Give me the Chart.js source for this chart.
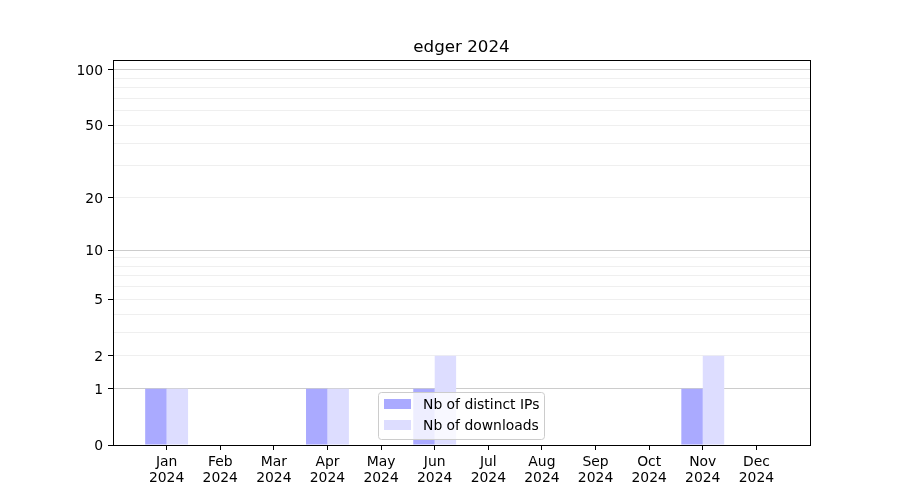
<!DOCTYPE html>
<html>
<head>
<meta charset="utf-8">
<script src="https://cdn.jsdelivr.net/npm/chart.js@4.4.1/dist/chart.umd.min.js"></script>
<style>
  html, body { margin: 0; background: #fff; }
  #wrap { width: 900px; height: 500px; }
</style>
</head>
<body>
<div id="wrap"><canvas id="chart"></canvas></div>
<script>
// Datos del gráfico
const months = ['Jan', 'Feb', 'Mar', 'Apr', 'May', 'Jun', 'Jul', 'Aug', 'Sep', 'Oct', 'Nov', 'Dec'];
const year = '2024';
const chartTitle = 'edger 2024';
const distinctIps = [1, 0, 0, 1, 0, 1, 0, 0, 0, 0, 1, 0];
const downloads = [1, 0, 0, 1, 0, 2, 0, 0, 0, 0, 2, 0];
const yLabelTicks = [0, 1, 2, 5, 10, 20, 50, 100];
const yMajorGrid = [1, 10, 100];
const yGridValues = [0, 1, 2, 3, 4, 5, 6, 7, 8, 9, 10, 20, 30, 40, 50, 60, 70, 80, 90, 100];
const yMax = 113;

Chart.defaults.font.family = "'DejaVu Sans', sans-serif";
Chart.defaults.font.size = 13.9;
Chart.defaults.color = '#000';

// Escala log(1 + x), como la de matplotlib
const f = v => Math.log10(1 + v);
class Log1pScale extends Chart.LinearScale {
    buildTicks() {
        return yGridValues.map(v => ({ value: v }));
    }
    getPixelForValue(value) {
        const d = (f(value) - f(this.min)) / (f(this.max) - f(this.min));
        return this.getPixelForDecimal(d);
    }
    getValueForPixel(pixel) {
        const d = this.getDecimalForPixel(pixel);
        return Math.pow(10, f(this.min) + d * (f(this.max) - f(this.min))) - 1;
    }
}
Log1pScale.id = 'log1p';
Log1pScale.defaults = {};
Chart.register(Log1pScale);

// Título, marco y leyenda dibujados a mano
const framePlugin = {
    id: 'frame',
    afterDraw(chart) {
        const { ctx, chartArea: a } = chart;
        ctx.save();
        ctx.strokeStyle = '#000';
        ctx.lineWidth = 1;
        ctx.strokeRect(Math.round(a.left) + 0.5, Math.round(a.top) + 0.5, a.right - a.left, a.bottom - a.top);

        ctx.font = "16.7px 'DejaVu Sans'";
        ctx.fillStyle = '#000';
        ctx.textAlign = 'center';
        ctx.textBaseline = 'alphabetic';
        ctx.fillText(chartTitle, (a.left + a.right) / 2, 52);

        // leyenda
        const lx = 378, ly = 392, lw = 166, lh = 47;
        ctx.beginPath();
        ctx.roundRect(lx + 0.5, ly + 0.5, lw, lh, 3);
        ctx.fillStyle = 'rgba(255,255,255,0.8)';
        ctx.fill();
        ctx.strokeStyle = '#cccccc';
        ctx.stroke();
        ctx.font = "13.9px 'DejaVu Sans'";
        ctx.textAlign = 'left';
        ctx.textBaseline = 'middle';
        chart.data.datasets.forEach((ds, i) => {
            const cy = 404 + i * 21;
            ctx.fillStyle = ds.backgroundColor;
            ctx.fillRect(384, cy - 5, 27, 10);
            ctx.fillStyle = '#000';
            ctx.fillText(ds.label, 423, cy + 1);
        });
        ctx.restore();
    }
};

new Chart(document.getElementById('chart'), {
    type: 'bar',
    data: {
        datasets: [
            {
                label: 'Nb of distinct IPs',
                data: distinctIps.map((v, i) => ({ x: i, y: v })),
                backgroundColor: '#aaaaff'
            },
            {
                label: 'Nb of downloads',
                data: downloads.map((v, i) => ({ x: i, y: v })),
                backgroundColor: '#ddddff'
            }
        ]
    },
    plugins: [framePlugin],
    options: {
        responsive: true,
        maintainAspectRatio: false,
        animation: false,
        categoryPercentage: 0.8,
        barPercentage: 1.0,
        layout: { padding: { top: 60, right: 90, left: 0, bottom: 0 } },
        plugins: {
            legend: { display: false },
            title: { display: false },
            tooltip: { enabled: false }
        },
        scales: {
            x: {
                type: 'linear',
                min: -1,
                max: 12,
                offset: false,
                afterBuildTicks: (scale) => { scale.ticks = months.map((m, i) => ({ value: i })); },
                afterFit: (scale) => { scale.height = 55; },
                grid: { display: true, drawOnChartArea: false, offset: false, tickLength: 5, tickColor: '#000' },
                border: { color: '#000', width: 1 },
                ticks: {
                    autoSkip: false,
                    maxRotation: 0,
                    padding: 4,
                    font: { lineHeight: 1.15 },
                    callback: (v) => [months[v], year]
                }
            },
            y: {
                type: 'log1p',
                min: 0,
                max: yMax,
                afterFit: (scale) => { scale.width = 113; },
                grid: {
                    tickLength: 5,
                    lineWidth: 1,
                    color: (ctx) => {
                        const v = ctx.tick ? ctx.tick.value : null;
                        if (v === 0) return 'rgba(0,0,0,0)';
                        return yMajorGrid.includes(v) ? '#cccccc' : '#efefef';
                    },
                    tickColor: (ctx) => (ctx.tick && yLabelTicks.includes(ctx.tick.value)) ? '#000' : 'rgba(0,0,0,0)'
                },
                border: { color: '#000', width: 1 },
                ticks: {
                    autoSkip: false,
                    padding: 5,
                    labelOffset: 1.5,
                    callback: (v) => yLabelTicks.includes(v) ? String(v) : ''
                }
            }
        }
    }
});
</script>
</body>
</html>
